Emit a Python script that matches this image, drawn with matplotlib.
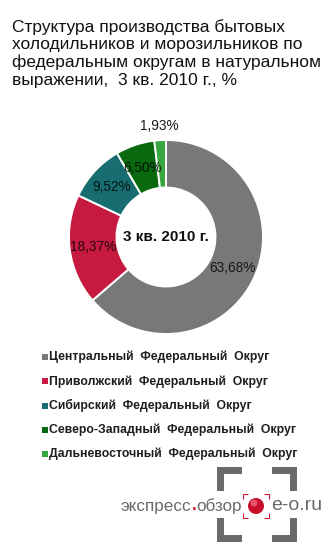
import matplotlib
matplotlib.use("Agg")
import matplotlib.pyplot as plt
from matplotlib.patches import Rectangle, Circle
import numpy as np

plt.rcParams['font.family'] = ['Liberation Sans', 'DejaVu Sans']

W, H = 331, 552

title = ("Структура производства бытовых\n"
         "холодильников и морозильников по\n"
         "федеральным округам в натуральном\n"
         "выражении,  3 кв. 2010 г., %")
center_label = "3 кв. 2010 г."

districts = [
    "Центральный  Федеральный  Округ",
    "Приволжский  Федеральный  Округ",
    "Сибирский  Федеральный  Округ",
    "Северо-Западный  Федеральный  Округ",
    "Дальневосточный  Федеральный  Округ",
]
shares = [63.68, 18.37, 9.52, 6.50, 1.93]
colors = ["#787878", "#c61a40", "#176d6f", "#08690e", "#3aa640"]
explode = [0.0, 0.045, 0.045, 0.045, 0.045]

fig = plt.figure(figsize=(W / 100, H / 100), dpi=100)
ax = fig.add_axes([0, 0, 1, 1])


def Y(y):
    return H - y


cx, cy, R = 166, Y(237), 97
ring = 0.49

wedges, texts, autotexts = ax.pie(
    shares, colors=colors, explode=explode, startangle=90, counterclock=False,
    center=(cx, cy), radius=R,
    autopct=lambda p: f"{p:.2f}".replace(".", ",") + "%",
    pctdistance=1 - ring / 2,
    wedgeprops=dict(width=R * ring, edgecolor="white", linewidth=1.4),
    textprops=dict(fontsize=9.8, color="black", alpha=0.8),
)

# the thinnest slice gets its label just outside the ring
w = wedges[-1]
mid = np.deg2rad((w.theta1 + w.theta2) / 2)
autotexts[-1].set_position((cx + 1.15 * R * np.cos(mid), cy + 1.15 * R * np.sin(mid)))
autotexts[-1].set_alpha(0.9)

ax.set_xlim(0, W)
ax.set_ylim(0, H)
ax.set_aspect("auto")
ax.axis("off")

ax.text(cx, cy, center_label, ha="center", va="center", fontsize=11,
        fontweight="bold", color="#111111")

ax.text(12, Y(19), title, ha="left", va="top", fontsize=12.5,
        linespacing=1.2, color="#111111")

# legend
leg_y0, leg_dy = 357, 24.3
for i, (name, col) in enumerate(zip(districts, colors)):
    yy = Y(leg_y0 + i * leg_dy)
    ax.add_patch(Rectangle((41.5, yy - 3), 6, 6, color=col, lw=0))
    ax.text(49, yy, name, ha="left", va="center", fontsize=8.8,
            fontweight="bold", color="#1e1e1e")

# logo
grey = "#6a6a6a"
th = 7
for (x0, y0, dx, dy) in [
    (217, 467, 25, th), (217, 467, th, 24),
    (272, 467, 25, th), (290, 467, th, 24),
    (217, 535, 25, th), (217, 518, th, 24),
    (272, 535, 25, th), (290, 518, th, 24),
]:
    ax.add_patch(Rectangle((x0, Y(y0 + dy)), dx, dy, color=grey, lw=0))

red = "#d0102e"
for (xa, ya, xb, yb) in [
    (243, 494, 248, 494), (243, 494, 243, 499), (264, 494, 269, 494), (269, 494, 269, 499),
    (243, 518, 248, 518), (243, 513, 243, 518), (264, 518, 269, 518), (269, 513, 269, 518),
]:
    ax.plot([xa, xb], [Y(ya), Y(yb)], color=red, lw=0.8, solid_capstyle="butt")
ax.add_patch(Circle((256, Y(506)), 8, color="#c8102e", lw=0))
ax.add_patch(Circle((254, Y(503)), 3.5, color="#f07080", lw=0, alpha=0.7))

t1 = ax.text(121, Y(506), "экспресс", ha="left", va="center", fontsize=12.3,
             color=grey)
t2 = ax.annotate(".", xy=(1, 0), xycoords=t1, ha="left", va="bottom",
                 fontsize=12.3, color=red, fontweight="bold")
ax.annotate("обзор", xy=(1, 0), xycoords=t2, ha="left", va="bottom",
            fontsize=12.3, color=grey)
ax.text(271, Y(506), "e-o.ru", ha="left", va="center", fontsize=14,
        color=grey)

fig.savefig("out.png", dpi=100)
